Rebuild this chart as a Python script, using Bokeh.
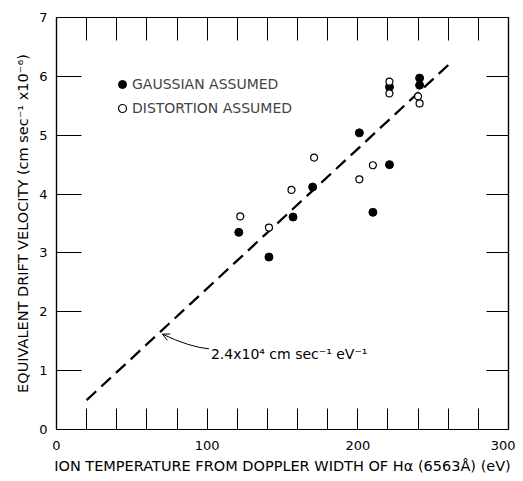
from bokeh.plotting import figure
from bokeh.models import (Range1d, LinearAxis, FixedTicker, Label, Legend,
                          LegendItem, Arrow, OpenHead)
from bokeh.embed import file_html
from bokeh.resources import INLINE

# ---- data ----
gauss_x = [121, 141, 157, 170, 201, 210, 221, 221, 241, 241]
gauss_y = [3.35, 2.93, 3.61, 4.12, 5.04, 3.69, 4.50, 5.82, 5.97, 5.85]
dist_x = [122, 141, 156, 171, 201, 210, 221, 221, 240, 241]
dist_y = [3.62, 3.43, 4.07, 4.62, 4.25, 4.49, 5.91, 5.71, 5.66, 5.54]
fit_x = [20, 262]
fit_y = [0.5, 6.24]

x_major = [0, 100, 200, 300]
x_minor = [20, 40, 60, 80, 120, 140, 160, 180, 220, 240, 260, 280]
y_ticks = [0, 1, 2, 3, 4, 5, 6, 7]
y_right_ticks = [1, 2, 3, 4, 5, 6]

FONT = "DejaVu Sans"

p = figure(frame_width=452, frame_height=412,
           x_range=Range1d(0, 300), y_range=Range1d(0, 7),
           x_axis_location=None, y_axis_location=None,
           output_backend="svg", toolbar_location=None)
p.min_border = 0
p.min_border_left = 56
p.min_border_right = 7
p.min_border_top = 17
p.min_border_bottom = 48
p.background_fill_color = "white"
p.border_fill_color = "white"
p.outline_line_color = "black"
p.outline_line_width = 1.2
p.grid.visible = False


def style_axis(ax):
    ax.axis_line_color = "black"
    ax.axis_line_width = 1.2
    ax.major_tick_line_color = "black"
    ax.minor_tick_line_color = "black"
    ax.major_tick_line_width = 1
    ax.minor_tick_line_width = 1
    ax.major_tick_out = 0
    ax.minor_tick_out = 0
    ax.major_label_text_font = FONT
    ax.major_label_text_font_size = "13px"
    ax.major_label_text_color = "black"
    ax.axis_label_text_font = FONT
    ax.axis_label_text_font_style = "normal"
    ax.axis_label_text_color = "black"
    ax.axis_label_text_font_size = "14.5px"


xb = LinearAxis(ticker=FixedTicker(ticks=x_major, minor_ticks=x_minor),
                axis_label="ION TEMPERATURE FROM DOPPLER WIDTH OF H\u03b1 (6563\u00c5) (eV)")
style_axis(xb)
xb.major_tick_in = 21
xb.minor_tick_in = 21
xb.major_label_standoff = 11
xb.axis_label_standoff = 5
p.add_layout(xb, "below")

yl = LinearAxis(ticker=FixedTicker(ticks=y_ticks),
                axis_label="EQUIVALENT DRIFT VELOCITY (cm sec\u207b\u00b9 x10\u207b\u2076)")
style_axis(yl)
yl.major_tick_in = 25
yl.minor_tick_in = 0
yl.major_label_standoff = 9
yl.axis_label_standoff = 5
p.add_layout(yl, "left")

xt = LinearAxis(ticker=FixedTicker(ticks=[], minor_ticks=x_major + x_minor))
style_axis(xt)
xt.major_tick_in = 0
xt.minor_tick_in = 23
xt.major_label_standoff = 0
p.add_layout(xt, "above")

yr = LinearAxis(ticker=FixedTicker(ticks=[], minor_ticks=y_right_ticks))
style_axis(yr)
yr.major_tick_in = 0
yr.minor_tick_in = 22
yr.major_label_standoff = 0
p.add_layout(yr, "right")

# ---- fitted line ----
p.line(fit_x, fit_y, line_color="black", line_width=2.3, line_dash="13 7")

# ---- data points ----
r_g = p.scatter(gauss_x, gauss_y, size=8, fill_color="black", line_color="black")
r_d = p.scatter(dist_x, dist_y, size=7, fill_color="white", line_color="black",
                line_width=1.2)

legend = Legend(items=[LegendItem(label="GAUSSIAN ASSUMED", renderers=[r_g]),
                       LegendItem(label="DISTORTION ASSUMED", renderers=[r_d])],
                location=(56, 311), glyph_width=20, glyph_height=20,
                label_standoff=0, spacing=4, padding=0, margin=0,
                border_line_alpha=0, background_fill_alpha=0,
                label_text_font=FONT, label_text_font_size="14px",
                label_height=20)
p.add_layout(legend)

# ---- slope annotation ----
ann_start = (101.2, 1.37)
ann_ctrl = (88.4, 1.40)
ann_tip = (70.3, 1.62)
p.quadratic(x0=[ann_start[0]], y0=[ann_start[1]], x1=[ann_tip[0]], y1=[ann_tip[1]],
            cx=[ann_ctrl[0]], cy=[ann_ctrl[1]], line_color="black", line_width=1)
p.add_layout(Arrow(end=OpenHead(size=7, line_width=1, line_color="black"),
                   x_start=ann_ctrl[0], y_start=ann_ctrl[1],
                   x_end=ann_tip[0], y_end=ann_tip[1], line_alpha=0))
p.add_layout(Label(x=102.5, y=1.28, text="2.4x10\u2074 cm sec\u207b\u00b9 eV\u207b\u00b9",
                   text_font=FONT, text_font_size="14px", text_color="black",
                   text_baseline="alphabetic", text_align="left"))

open("out.html", "w").write(file_html(p, INLINE))
